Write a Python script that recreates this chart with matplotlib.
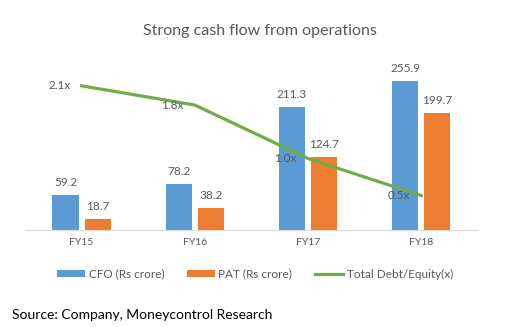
import numpy as np
import matplotlib.pyplot as plt

plt.rcParams['font.family'] = ['Lato', 'DejaVu Sans']

years = ["FY15", "FY16", "FY17", "FY18"]
cfo = [59.2, 78.2, 211.3, 255.9]
pat = [18.7, 38.2, 124.7, 199.7]
debt_equity = [2.1, 1.82, 1.04, 0.5]

blue = "#5B9BD5"
orange = "#ED7D31"
green = "#70AD47"
grey = "#595959"

fig = plt.figure(figsize=(5.2, 3.27), dpi=100)
ax = fig.add_axes([0.048, 0.297, 0.871, 0.535])
x = np.arange(len(years))
w = 0.23
off = 0.142

b1 = ax.bar(x - off, cfo, w, color=blue, label="CFO (Rs crore)")
b2 = ax.bar(x + off, pat, w, color=orange, label="PAT (Rs crore)")
for bars in (b1, b2):
    for r in bars:
        ax.annotate(f"{r.get_height():.1f}", (r.get_x() + r.get_width() / 2, r.get_height()),
                    xytext=(0, 5), textcoords="offset points", ha="center", va="bottom",
                    fontsize=8.5, color=grey)

ax.set_xlim(-0.5, 3.5)
ax.set_ylim(0, 300)
ax.set_xticks(x)
ax.set_xticklabels(years, fontsize=7.5, color=grey)
ax.tick_params(length=0, pad=6)
ax.set_yticks([])
for s in ["top", "right", "left"]:
    ax.spines[s].set_visible(False)
ax.spines["bottom"].set_color("#D9D9D9")

ax2 = ax.twinx()
ln, = ax2.plot(x, debt_equity, color=green, lw=2.3, label="Total Debt/Equity(x)")
ax2.set_ylim(0, 2.55)
ax2.set_yticks([])
for s in ax2.spines.values():
    s.set_visible(False)
for xi, v in zip(x, debt_equity):
    ax2.annotate(f"{v:.1f}x", (xi, v), xytext=(-8, 0), textcoords="offset points",
                 ha="right", va="center", fontsize=8.5, color=grey)

fig.text(0.5, 0.905, "Strong cash flow from operations", ha="center", va="center",
         fontsize=11.5, color=grey)
fig.legend(handles=[b1, b2, ln], loc="center", bbox_to_anchor=(0.49, 0.162), ncol=3,
           frameon=False, fontsize=8.5, labelcolor=grey, handlelength=2.4,
           handleheight=0.5, columnspacing=1.9, handletextpad=0.3)
fig.text(0.023, 0.036, "Source: Company, Moneycontrol Research", ha="left", va="center",
         fontsize=10, color="black")

fig.savefig("out.png", dpi=100)
